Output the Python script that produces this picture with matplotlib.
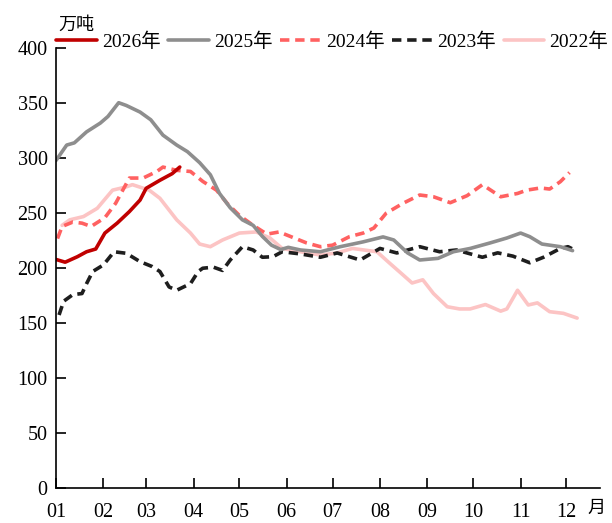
from __future__ import annotations

import matplotlib

matplotlib.use("Agg")
import matplotlib.pyplot as plt
import pandas as pd


plt.rcParams["font.family"] = ["Liberation Serif", "Noto Sans CJK SC"]

# 2026
dates_2026 = ["01-01", "01-07", "01-15", "01-21", "01-27", "02-02", "02-10", "02-18", "02-25",
              "03-01", "03-10", "03-18", "03-23"]
vals_2026 = [208, 205.5, 210.5, 215, 217.5, 232, 241, 251.5, 262, 272.7, 280, 286, 292]

# 2025
dates_2025 = ["01-01", "01-08", "01-13", "01-21", "01-30", "02-04", "02-11", "02-16", "02-25",
              "03-04", "03-12", "03-21", "03-28", "04-05", "04-12", "04-18", "04-25", "05-03",
              "05-10", "05-16", "05-22", "05-28", "06-02", "06-10", "06-23", "07-06", "07-21",
              "08-03", "08-10", "08-19", "08-27", "09-08", "09-18", "09-29", "10-12", "10-23",
              "11-01", "11-07", "11-15", "11-27", "12-05"]
vals_2025 = [298, 312, 314, 324, 332, 338, 350.5, 348, 342, 335, 321, 312, 306, 296, 285, 268,
             255, 244, 239, 229, 221, 217, 219, 216.6, 215, 219.6, 224, 228.5, 225.7, 214, 207.5,
             209, 215, 218, 223, 227.5, 232, 228.7, 222, 219.6, 216]

# 2024
dates_2024 = ["01-02", "01-05", "01-12", "01-18", "01-24", "02-02", "02-09", "02-18", "02-27",
              "03-08", "03-12", "03-21", "03-30", "04-07", "04-16", "04-23", "05-01", "05-10",
              "05-19", "05-27", "06-05", "06-14", "06-23", "07-01", "07-12", "07-21", "07-28",
              "08-05", "08-16", "08-27", "09-05", "09-16", "09-27", "10-07", "10-19", "10-30",
              "11-05", "11-14", "11-20", "11-27", "12-03"]
vals_2024 = [227, 238, 242, 241, 238, 246, 259, 282, 282, 288, 292, 289, 288, 279, 271, 259,
             248, 239, 231, 233, 228, 223, 219.6, 221, 228.7, 232, 236.6, 250, 259, 266.6, 265,
             259.6, 266, 276, 265, 268, 271, 273, 272, 278.7, 287]

# 2023
dates_2023 = ["01-03", "01-06", "01-12", "01-18", "01-21", "01-25", "02-01", "02-08", "02-16",
              "02-25", "03-05", "03-10", "03-16", "03-21", "03-30", "04-04", "04-07", "04-14",
              "04-20", "04-25", "05-03", "05-10", "05-16", "05-23", "05-29", "06-10", "06-23",
              "07-04", "07-19", "08-01", "08-12", "08-27", "09-09", "09-20", "10-07", "10-17",
              "10-27", "11-07", "11-16", "11-27", "12-02", "12-05"]
vals_2023 = [157.5, 170, 176, 177, 186, 197, 203, 215, 213.6, 206, 201.5, 197, 183, 180, 186,
             197, 200, 201, 198, 207.5, 219.6, 216.6, 210, 210.5, 215, 213, 210, 213.9, 207.5,
             218, 213.9, 219.6, 215, 216.6, 210, 214, 211, 205, 210, 218, 219.6, 217.5]

# 2022
dates_2022 = ["01-05", "01-10", "01-19", "01-28", "02-07", "02-16", "02-20", "03-03", "03-10",
              "03-21", "03-30", "04-05", "04-12", "04-20", "05-01", "05-12", "05-21", "05-29",
              "06-10", "06-23", "07-04", "07-14", "07-30", "08-07", "08-16", "08-22", "08-29",
              "09-05", "09-14", "09-22", "09-29", "10-09", "10-19", "10-23", "10-30", "11-06",
              "11-12", "11-20", "11-29", "12-08"]
vals_2022 = [239, 244, 247, 254.5, 271, 274, 276, 271, 263.6, 244, 232, 222, 219.6, 225.7, 232,
             233, 227.5, 218, 215, 212, 214, 218, 215, 205, 194, 186.6, 189.5, 177, 165, 163,
             163, 167, 161, 163, 180, 166.6, 168.5, 160.5, 159, 154.7]

month_labels = ["01", "02", "03", "04", "05", "06", "07", "08", "09", "10", "11", "12"]
y_ticks = [0, 50, 100, 150, 200, 250, 300, 350, 400]


def day_of_year(dates: list[str]) -> list[int]:
    parsed = pd.to_datetime(["2001-" + d for d in dates])
    return list(parsed.dayofyear - 1)


def main() -> None:
    fig = plt.figure(figsize=(6.12, 5.23), dpi=100)
    ax = fig.add_axes([0.0915, 0.0665, 0.889, 0.8412])

    series = [
        ("2022年", dates_2022, vals_2022, dict(color="#FCC4C4", lw=2.6, ls="-")),
        ("2023年", dates_2023, vals_2023, dict(color="#1E1E1E", lw=2.6, ls=(0, (2.6, 1.6)))),
        ("2024年", dates_2024, vals_2024, dict(color="#FF6161", lw=2.6, ls=(0, (2.6, 1.6)))),
        ("2025年", dates_2025, vals_2025, dict(color="#8E8E8E", lw=2.6, ls="-")),
        ("2026年", dates_2026, vals_2026, dict(color="#C00000", lw=2.6, ls="-")),
    ]
    handles = {}
    for label, dates, vals, style in series:
        (line,) = ax.plot(day_of_year(dates), vals, label=label, solid_capstyle="round",
                          dash_capstyle="butt", **style)
        handles[label] = line

    month_starts = day_of_year([f"{m}-01" for m in month_labels])
    ax.set_xlim(0, 356)
    ax.set_ylim(0, 400)
    ax.set_xticks(month_starts)
    ax.set_xticklabels(month_labels, fontsize=14.5)
    ax.set_yticks(y_ticks)
    ax.set_yticklabels([str(t) for t in y_ticks], fontsize=14.5)
    ax.tick_params(axis="x", direction="in", length=7, width=1.2, pad=11)
    ax.tick_params(axis="y", direction="in", length=7, width=1.2, pad=6)
    for side in ("top", "right"):
        ax.spines[side].set_visible(False)
    for side in ("left", "bottom"):
        ax.spines[side].set_linewidth(1.2)

    fig.text(0.975, 0.027, "月", fontsize=13, ha="center", va="center")
    fig.text(0.125, 0.952, "万吨", fontsize=13, ha="center", va="center")

    order = ["2026年", "2025年", "2024年", "2023年", "2022年"]
    fig.legend([handles[k] for k in order], order, ncol=5, loc="center",
               bbox_to_anchor=(0.543, 0.921), frameon=False, fontsize=14,
               handlelength=2.1, handletextpad=0.25, columnspacing=0.38,
               borderaxespad=0, borderpad=0)

    fig.savefig("out.png", dpi=100)
    plt.close(fig)


if __name__ == "__main__":
    main()
